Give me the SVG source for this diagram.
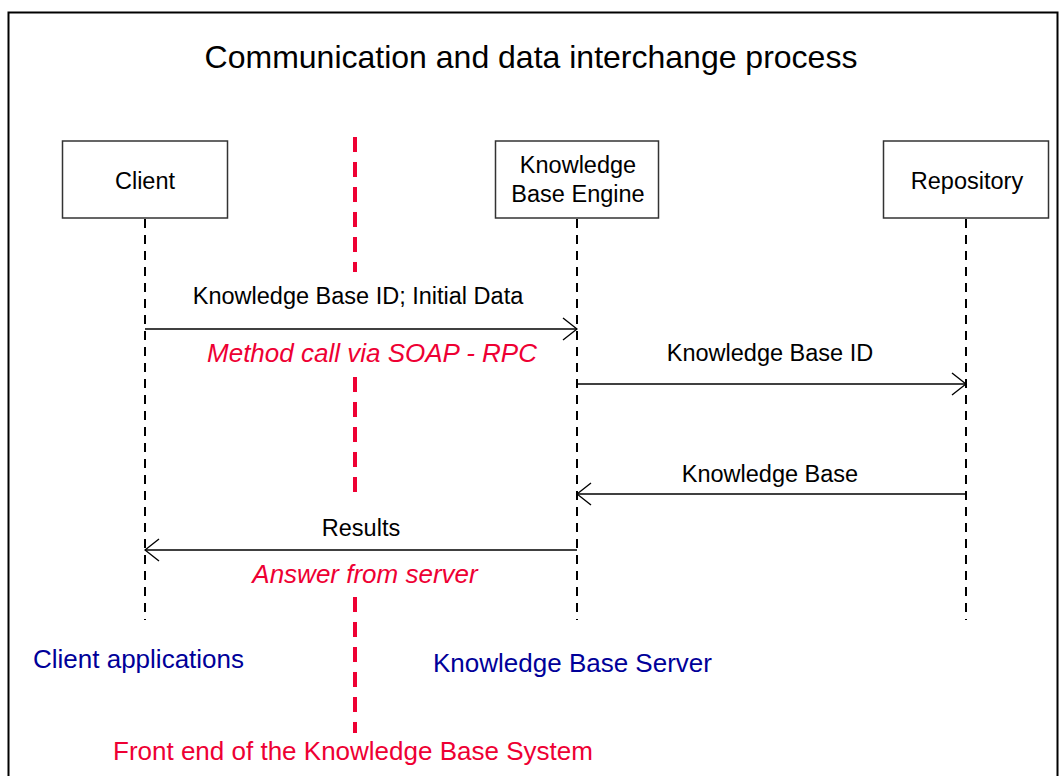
<svg xmlns="http://www.w3.org/2000/svg" width="1060" height="776" viewBox="0 0 1060 776">
  <style>
    text { font-family: "Liberation Sans", Arial, sans-serif; }
    .title { font-size: 32px; fill: #000; text-anchor: middle; }
    .box { fill: #fff; stroke: #333; stroke-width: 1.5; }
    .lbl { font-size: 23.5px; fill: #000; text-anchor: middle; }
    .note { font-size: 26px; font-style: italic; fill: #ee0033; text-anchor: middle; }
    .zone { font-size: 26px; fill: #000099; }
    .front { font-size: 26px; fill: #ee0033; }
    .life { stroke: #000; stroke-width: 2; stroke-dasharray: 9 7; fill: none; }
    .divider { stroke: #ee0033; stroke-width: 4; stroke-dasharray: 15 10; fill: none; }
    .msg { stroke: #000; stroke-width: 1.5; fill: none; marker-end: url(#open); }
  </style>
  <defs>
    <marker id="open" viewBox="0 0 16 24" refX="15" refY="12" markerWidth="16" markerHeight="24" markerUnits="userSpaceOnUse" orient="auto">
      <path d="M1,1 L15,12 L1,23" fill="none" stroke="#000" stroke-width="1.4"/>
    </marker>
  </defs>

  <rect width="1060" height="776" fill="#fff"/>
  <!-- frame -->
  <rect x="8.5" y="12.5" width="1049" height="780" fill="none" stroke="#000" stroke-width="2"/>

  <text class="title" x="531" y="68">Communication and data interchange process</text>

  <!-- front-end boundary -->
  <g id="boundary">
    <line class="divider" x1="355" y1="137" x2="355" y2="272"/>
    <line class="divider" x1="355" y1="377" x2="355" y2="492"/>
    <line class="divider" x1="355" y1="597" x2="355" y2="733"/>
  </g>

  <g id="client">
    <rect class="box" x="62.5" y="141" width="165" height="77"/>
    <text class="lbl" x="145" y="189">Client</text>
    <line class="life" x1="145" y1="219" x2="145" y2="620"/>
  </g>

  <g id="engine">
    <rect class="box" x="495.5" y="141" width="163" height="77"/>
    <text class="lbl" x="578" y="173">Knowledge</text>
    <text class="lbl" x="578" y="202">Base Engine</text>
    <line class="life" x1="577" y1="219" x2="577" y2="620"/>
  </g>

  <g id="repository">
    <rect class="box" x="883.5" y="141" width="165" height="77"/>
    <text class="lbl" x="967" y="189">Repository</text>
    <line class="life" x1="966" y1="219" x2="966" y2="620"/>
  </g>

  <g id="connectors">
    <line class="msg" x1="145" y1="329" x2="577" y2="329"/>
    <line class="msg" x1="577" y1="384" x2="966" y2="384"/>
    <line class="msg" x1="966" y1="494" x2="577" y2="494"/>
    <line class="msg" x1="577" y1="550" x2="145" y2="550"/>
  </g>

  <g id="labels">
    <text class="lbl" x="358" y="304">Knowledge Base ID; Initial Data</text>
    <text class="note" x="372" y="362">Method call via SOAP - RPC</text>
    <text class="lbl" x="770" y="361">Knowledge Base ID</text>
    <text class="lbl" x="770" y="482">Knowledge Base</text>
    <text class="lbl" x="361" y="536">Results</text>
    <text class="note" x="365" y="583">Answer from server</text>
  </g>

  <g id="zones">
    <text class="zone" x="33" y="668">Client applications</text>
    <text class="zone" x="433" y="672">Knowledge Base Server</text>
    <text class="front" x="113" y="760">Front end of the Knowledge Base System</text>
  </g>
</svg>
